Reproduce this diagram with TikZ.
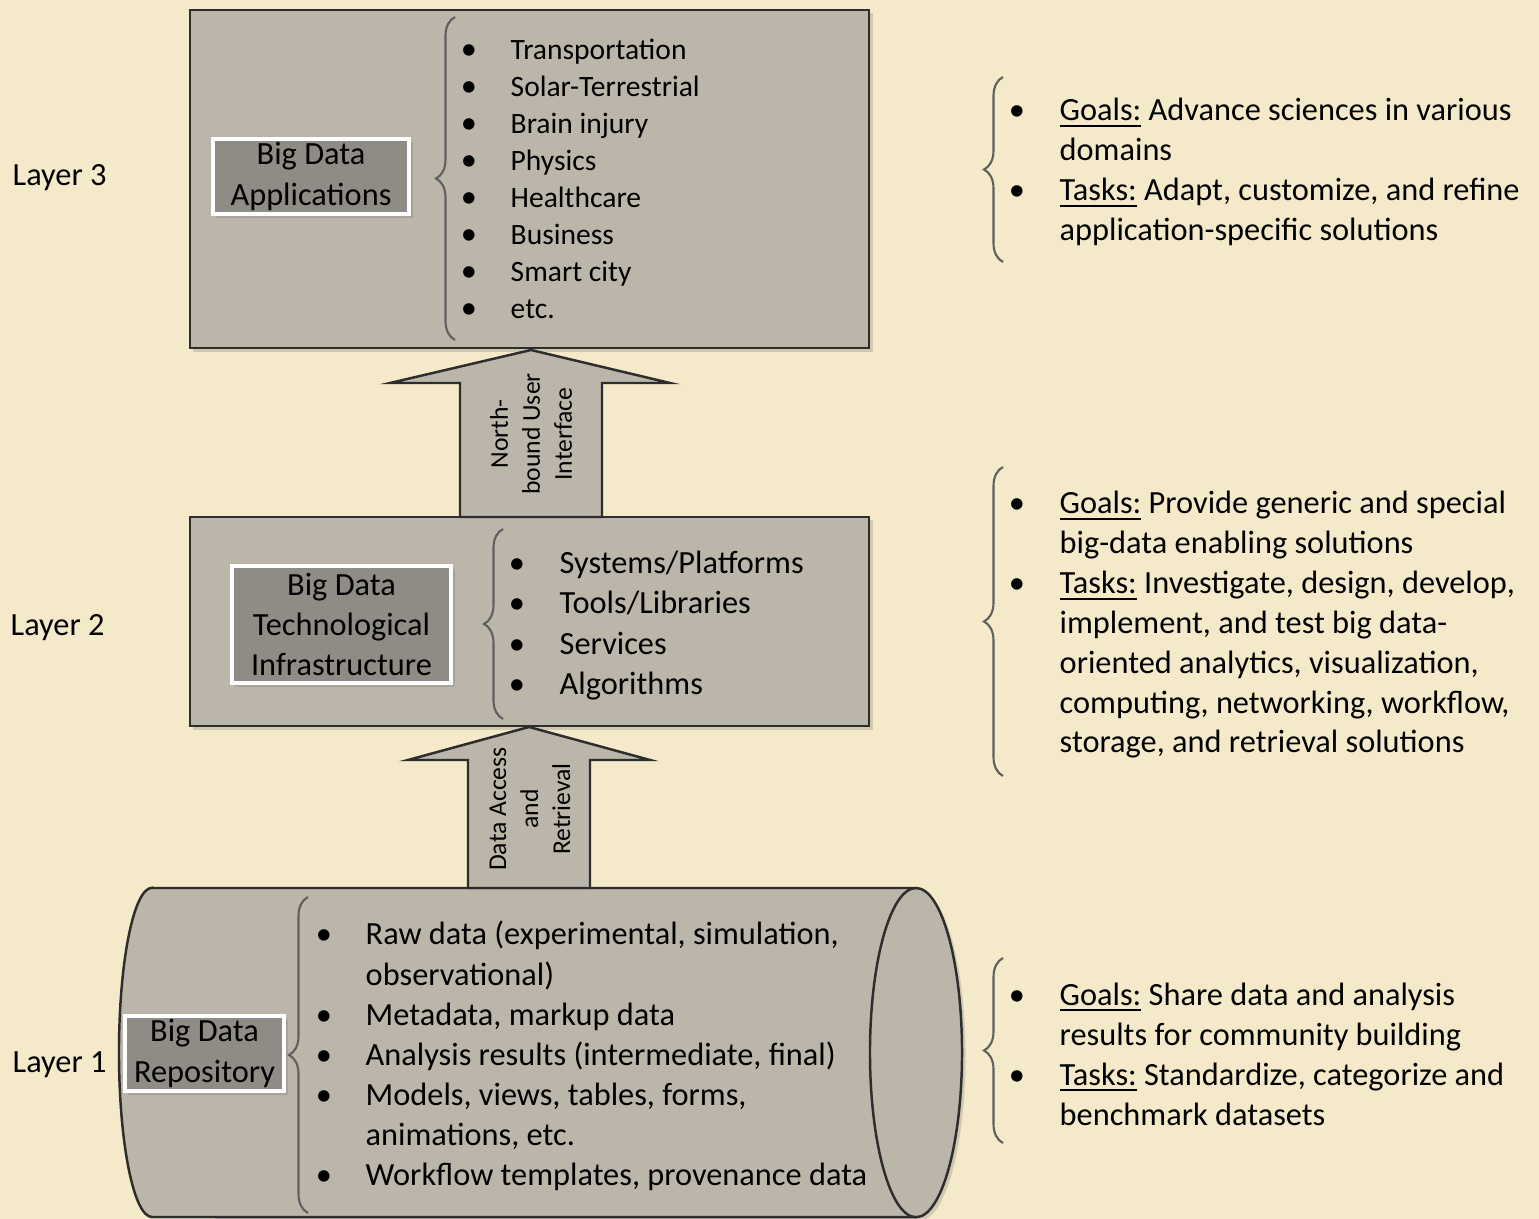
\documentclass[tikz,border=0pt]{standalone}
\usepackage{fontspec}
\setmainfont{Carlito}
\usetikzlibrary{positioning,decorations.pathreplacing,shadows}
\definecolor{parchment}{RGB}{244,233,200}
\definecolor{boxgray}{RGB}{187,182,169}
\definecolor{labelgray}{RGB}{143,140,133}
\definecolor{edgegray}{RGB}{45,45,45}
\definecolor{bracegray}{RGB}{95,95,95}
\tikzset{
x=0.01cm, y=-0.01cm, % one unit is one pixel of the layout
layerbox/.style={draw=edgegray, fill=boxgray, line width=0.7pt, inner sep=0pt,
  drop shadow={shadow xshift=1pt, shadow yshift=-1pt, opacity=0.3}}, % the layer panels
labelbox/.style={draw=white, fill=labelgray, line width=1pt, inner sep=0pt, align=center,
  font=\fontsize{9.2}{11.4}\selectfont,
  drop shadow={shadow xshift=1pt, shadow yshift=-1pt, opacity=0.35}}, % name of a layer
blockarrow/.style={draw=edgegray, fill=boxgray, line width=0.7pt}, % the upward arrows
arrowtext/.style={align=center, inner sep=0pt, rotate=90, font=\fontsize{7.3}{9.1}\selectfont},
grpbrace/.style={decorate, decoration={brace, amplitude=5.4pt}, draw=bracegray, line width=0.6pt},
bul/.style={anchor=base, inner sep=0pt, font=\fontsize{9.2}{11.4}\selectfont},
itemtext/.style={anchor=base west, inner sep=0pt, font=\fontsize{9.2}{11.4}\selectfont},
apptext/.style={itemtext, font=\fontsize{8.4}{10.5}\selectfont},
layertext/.style={anchor=base west, inner sep=0pt, font=\fontsize{9.2}{11.4}\selectfont},
}

\begin{document}
\begin{tikzpicture}
\useasboundingbox (0,0) rectangle (1539,1219);
\fill[parchment] (0,0) rectangle (1539,1219);

% layer panels
\node[layerbox, minimum width=6.79cm, minimum height=3.38cm] (apps) at (529.5,179) {};
\node[layerbox, minimum width=6.79cm, minimum height=2.09cm] (infra) at (529.5,621.5) {};
\filldraw[blockarrow, drop shadow={shadow xshift=1pt, shadow yshift=-1pt, opacity=0.3}]
  (152,888) -- (916,888) arc[start angle=90, end angle=-90, x radius=0.46cm, y radius=1.645cm]
  -- (152,1217) arc[start angle=270, end angle=90, x radius=0.33cm, y radius=1.645cm] -- cycle;
\draw[draw=edgegray, line width=0.7pt] (916,888) arc[start angle=90, end angle=270, x radius=0.46cm, y radius=1.645cm];

% arrows between the layers
\filldraw[blockarrow] (460,517) -- (460,383) -- (390,383) -- (531,350) -- (670,383) -- (602,383) -- (602,517) -- cycle;
\node[arrowtext] (north) at (531,434) {North-\\bound User\\Interface};
\filldraw[blockarrow] (468,888) -- (468,760) -- (408,760) -- (529,727) -- (650,760) -- (590,760) -- (590,888) -- cycle;
\node[arrowtext] (access) at (530,809) {Data Access\\and\\Retrieval};

% layer names
\node[labelbox, minimum width=1.96cm, minimum height=0.75cm] (appname) at (311,176.5) {\rule{0pt}{1.2ex}Big Data\\Applications};
\node[labelbox, minimum width=2.19cm, minimum height=1.17cm] (infraname) at (341.5,624.5) {Big Data\\Technological\\Infrastructure};
\node[labelbox, minimum width=1.59cm, minimum height=0.75cm] (reponame) at (204.5,1053.5) {\rule{0pt}{1.2ex}Big Data\\Repository};

\node[layertext] (layer3) at (12,186) {Layer 3};
\node[layertext] (layer2) at (10,636) {Layer 2};
\node[layertext] (layer1) at (12,1072) {Layer 1};

% braces
\draw[grpbrace] (455,340) -- (455,17);
\draw[grpbrace] (503,719) -- (503,529);
\draw[grpbrace] (308,1213) -- (308,897);
\draw[grpbrace] (1003,262) -- (1003,77);
\draw[grpbrace] (1003,776) -- (1003,467);
\draw[grpbrace] (1003,1143) -- (1003,958);

% layer 3 list
\foreach \y/\t [count=\i] in {49/Transportation, 86/Solar-Terrestrial, 123/Brain injury, 160/Physics,
  197/Healthcare, 234/Business, 271/Smart city, 308/etc.}{
  \node[bul] (appb\i) at (469,\y+11) {•};
  \node[apptext] (appi\i) at (510,\y+11) {\t};
}
% layer 2 list
\foreach \y/\t [count=\i] in {563/{Systems/Platforms}, 603/{Tools/Libraries}, 644/Services, 684/Algorithms}{
  \node[bul] (infb\i) at (517,\y+11) {•};
  \node[itemtext] (infi\i) at (559,\y+11) {\t};
}
% layer 1 list
\foreach \y/\b/\t [count=\i] in {934/1/{Raw data (experimental, simulation,}, 974/0/observational),
  1014/1/{Metadata, markup data}, 1054/1/{Analysis results (intermediate, final)},
  1094/1/{Models, views, tables, forms,}, 1134/0/{animations, etc.},
  1174/1/{Workflow templates, provenance data}}{
  \ifnum\b=1 \node[bul] (repb\i) at (324,\y+11) {•}; \fi
  \node[itemtext] (repi\i) at (365,\y+11) {\t};
}

% goals and tasks
\foreach \y/\b/\t [count=\i] in {110/1/{\underline{Goals:} Advance sciences in various}, 150/0/domains,
  190/1/{\underline{Tasks:} Adapt, customize, and refine}, 230/0/{application-specific solutions}}{
  \ifnum\b=1 \node[bul] (gtb\i) at (1017,\y+11) {•}; \fi
  \node[itemtext] (gti\i) at (1059,\y+11) {\t};
}
\foreach \y/\b/\t [count=\i] in {503/1/{\underline{Goals:} Provide generic and special},
  543/0/{big-data enabling solutions}, 583/1/{\underline{Tasks:} Investigate, design, develop,},
  623/0/{implement, and test big data-}, 663/0/{oriented analytics, visualization,},
  703/0/{computing, networking, workflow,}, 742/0/{storage, and retrieval solutions}}{
  \ifnum\b=1 \node[bul] (gib\i) at (1017,\y+11) {•}; \fi
  \node[itemtext] (gii\i) at (1059,\y+11) {\t};
}
\foreach \y/\b/\t [count=\i] in {994/1/{\underline{Goals:} Share data and analysis},
  1034/0/{results for community building}, 1074/1/{\underline{Tasks:} Standardize, categorize and},
  1114/0/{benchmark datasets}}{
  \ifnum\b=1 \node[bul] (grb\i) at (1017,\y+11) {•}; \fi
  \node[itemtext] (gri\i) at (1059,\y+11) {\t};
}
\end{tikzpicture}
\end{document}
